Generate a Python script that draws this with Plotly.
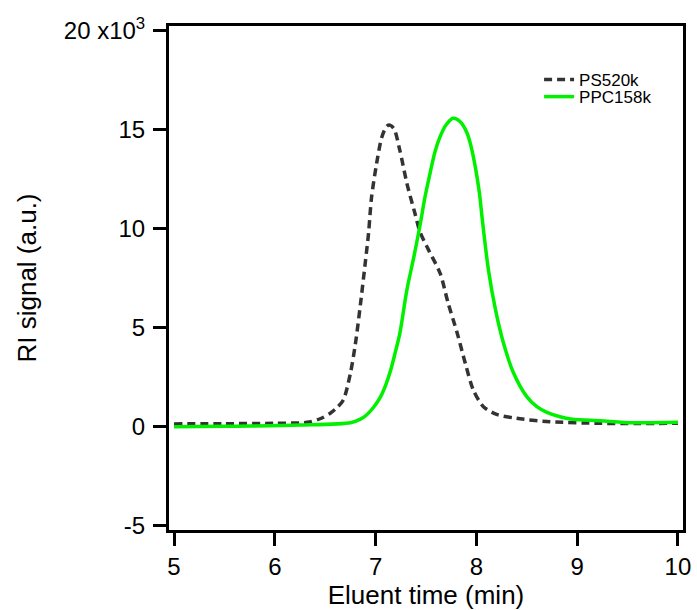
import plotly.graph_objects as go

# PS520k (dashed)
ps_x = [5.0, 5.5, 6.0, 6.32, 6.45, 6.55, 6.62, 6.68, 6.75, 6.80, 6.85, 6.90, 6.93, 6.96, 7.01,
        7.06, 7.10, 7.13, 7.18, 7.24, 7.31, 7.39, 7.44, 7.53, 7.64, 7.72, 7.81, 7.89, 7.97,
        8.07, 8.20, 8.40, 8.73, 9.23, 9.6, 10.0]
ps_y = [0.14, 0.15, 0.17, 0.22, 0.4, 0.68, 0.98, 1.35, 2.7, 4.2, 6.2, 8.4, 9.77, 11.6, 13.3,
        14.6, 15.1, 15.24, 15.07, 13.97, 12.3, 10.78, 9.85, 8.88, 7.75, 6.23, 4.72, 3.2, 1.85,
        1.01, 0.62, 0.42, 0.25, 0.17, 0.16, 0.17]

# PPC158k (solid green)
ppc_x = [5.0, 5.5, 5.75, 6.25, 6.75, 6.85, 6.91, 6.98, 7.05, 7.10, 7.15, 7.20, 7.24, 7.31,
         7.38, 7.44, 7.49, 7.54, 7.59, 7.64, 7.70, 7.77, 7.84, 7.91, 7.95, 7.99, 8.03,
         8.06, 8.12, 8.19, 8.27, 8.37, 8.50, 8.60, 8.70, 8.83, 8.95, 9.23, 9.56, 10.0]
ppc_y = [0.0, 0.02, 0.03, 0.08, 0.2, 0.38, 0.59, 0.98, 1.52, 2.1, 2.86, 3.85, 4.7, 6.9,
         8.59, 10.15, 11.6, 12.8, 13.9, 14.65, 15.25, 15.58, 15.4, 14.8, 14.1, 13.1, 11.8,
         10.4, 7.9, 5.9, 4.2, 2.7, 1.52, 1.01, 0.72, 0.5, 0.38, 0.3, 0.2, 0.22]

y_tickvals = [20, 15, 10, 5, 0, -5]
y_ticktext = ["20 x10<sup>3</sup>", "15", "10", "5", "0", "-5"]
x_tickvals = [5, 6, 7, 8, 9, 10]

FONT = "Liberation Sans, Arial, sans-serif"

fig = go.Figure()
fig.add_trace(go.Scatter(x=ps_x, y=ps_y, mode="lines", name="PS520k", legend="legend",
                         line=dict(color="#333333", width=3.5, dash="8px,5px",
                                   shape="spline", smoothing=0.8)))
fig.add_trace(go.Scatter(x=ppc_x, y=ppc_y, mode="lines", name="PPC158k", legend="legend2",
                         line=dict(color="#00f000", width=3.5,
                                   shape="spline", smoothing=0.8)))

axis_common = dict(showline=True, linecolor="black", linewidth=3, mirror=True,
                   ticks="outside", ticklen=13, tickwidth=3, tickcolor="black",
                   showgrid=False, zeroline=False, automargin=False,
                   tickfont=dict(family=FONT, size=24, color="black"))

fig.update_xaxes(range=[4.95, 10.05], tickvals=x_tickvals, ticklabelstandoff=0,
                 title=dict(text="Eluent time (min)", standoff=12,
                            font=dict(family=FONT, size=26, color="black")),
                 **axis_common)
fig.update_yaxes(range=[-5.22, 20.24], tickvals=y_tickvals, ticktext=y_ticktext,
                 ticklabelstandoff=3,
                 title=dict(text="RI signal (a.u.)", standoff=20,
                            font=dict(family=FONT, size=26, color="black")),
                 **axis_common)

leg_common = dict(x=0.72, xanchor="left", yanchor="middle", bgcolor="rgba(0,0,0,0)",
                  itemwidth=30, borderwidth=0,
                  font=dict(family=FONT, size=17, color="black"))

fig.update_layout(
    width=697, height=610,
    margin=dict(l=169, r=14, t=26, b=80),
    paper_bgcolor="white", plot_bgcolor="white",
    showlegend=True,
    legend=dict(y=0.893, **leg_common),
    legend2=dict(y=0.859, **leg_common),
)

fig.write_html("out.html")
